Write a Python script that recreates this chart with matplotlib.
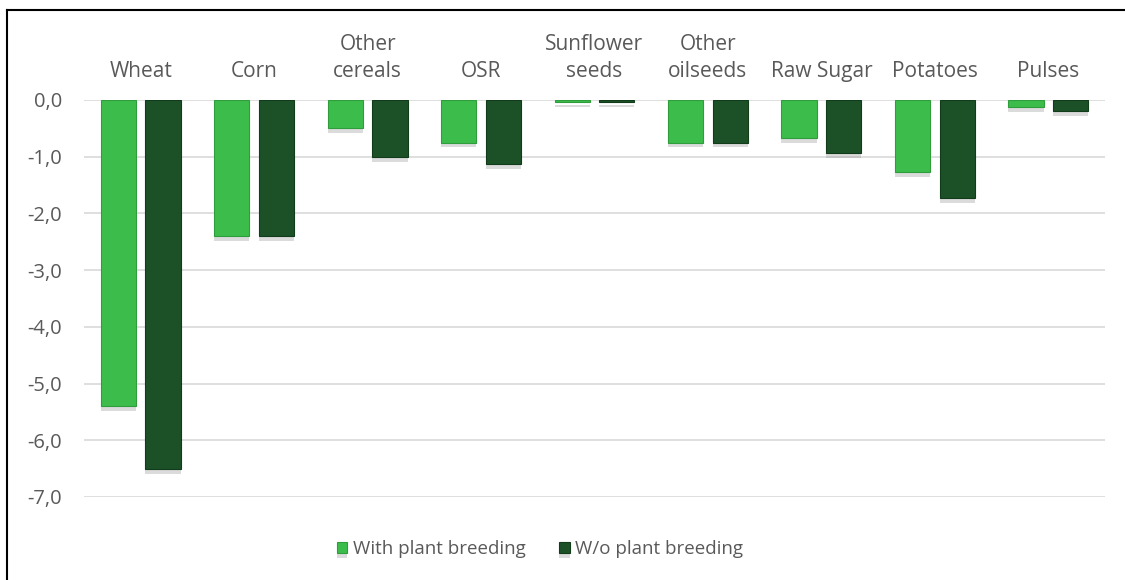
import matplotlib
matplotlib.use("Agg")
import matplotlib.pyplot as plt
import matplotlib.patheffects as pe
from matplotlib.lines import Line2D
import numpy as np

# data
categories = ["Wheat", "Corn", "Other\ncereals", "OSR", "Sunflower\nseeds",
              "Other\noilseeds", "Raw Sugar", "Potatoes", "Pulses"]
with_breeding = [-5.4, -2.4, -0.5, -0.75, -0.03, -0.75, -0.67, -1.27, -0.12]
without_breeding = [-6.5, -2.4, -1.0, -1.13, -0.03, -0.75, -0.93, -1.73, -0.2]
yticks = [0, -1, -2, -3, -4, -5, -6, -7]

light_green = "#3cbd4b"
dark_green = "#1c5128"
text_col = "#595959"

plt.rcParams['font.family'] = ['Open Sans', 'DejaVu Sans']

fig = plt.figure(figsize=(11.25, 5.8), dpi=100)
ax = fig.add_axes([84/1125, 1-497/580, (1105-84)/1125, 397/580])

x = np.arange(len(categories))
w = 0.31
off = 0.197
shadow = [pe.SimplePatchShadow(offset=(0, -3.5), shadow_rgbFace="#888888", alpha=0.3), pe.Normal()]

b1 = ax.bar(x - off, with_breeding, w, color=light_green, edgecolor="#2f9d3c",
            linewidth=0.8, label="With plant breeding", zorder=3)
b2 = ax.bar(x + off, without_breeding, w, color=dark_green, edgecolor="#123b1a",
            linewidth=0.8, label="W/o plant breeding", zorder=3)
for p in list(b1) + list(b2):
    p.set_path_effects(shadow)

ax.set_xlim(-0.5, len(categories) - 0.5)
ax.set_ylim(-7, 0)
ax.set_yticks(yticks)
ax.set_yticklabels([f"{v:.1f}".replace(".", ",") for v in yticks])
ax.tick_params(axis="y", length=0, pad=16, labelsize=14.5, labelcolor=text_col)
ax.set_xticks([])
ax.grid(axis="y", color="#d9d9d9", linewidth=1.2, zorder=0)
for s in ax.spines.values():
    s.set_visible(False)

# category names above the plot
for i, c in enumerate(categories):
    ax.annotate(c, xy=(i, 1), xycoords=("data", "axes fraction"),
                xytext=(0, 13), textcoords="offset points",
                ha="center", va="bottom", fontsize=15, color=text_col,
                linespacing=1.4)

leg = fig.legend(handles=[b1, b2], loc="center", bbox_to_anchor=(540/1125, 1-549/580),
                 ncol=2, frameon=False, fontsize=13.5, handlelength=0.55, handleheight=0.55,
                 handletextpad=0.3, columnspacing=1.8, labelcolor=text_col)

# outer frame (left and top edges visible)
fig.add_artist(Line2D([7/1125, 7/1125], [0, 1-10/580], color="black", linewidth=1.5))
fig.add_artist(Line2D([7/1125, 1], [1-10/580, 1-10/580], color="black", linewidth=1.5))

fig.savefig("out.png", dpi=100)
